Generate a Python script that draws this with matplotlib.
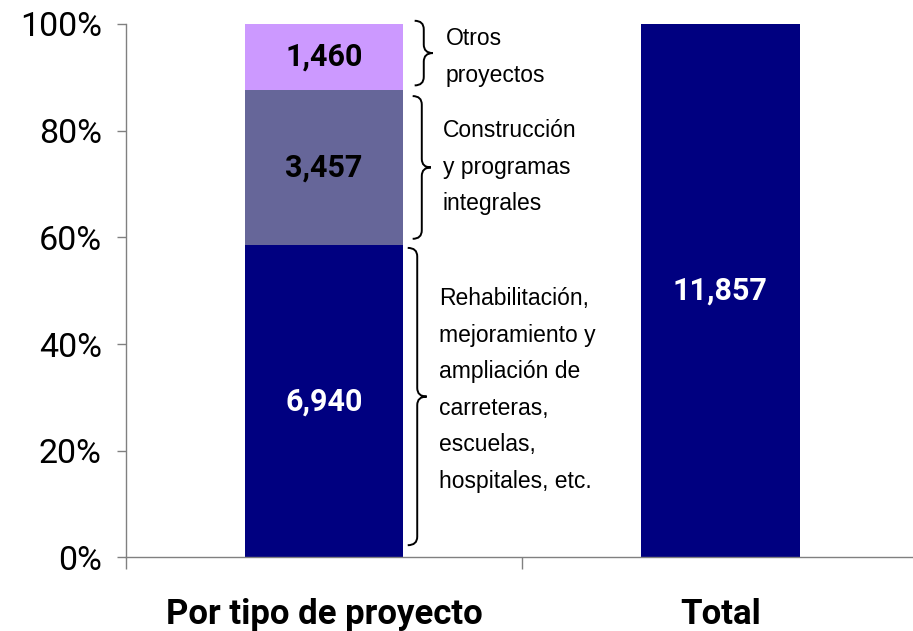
import matplotlib
matplotlib.use('Agg')
import matplotlib.pyplot as plt
from matplotlib.path import Path
from matplotlib.patches import PathPatch
import numpy as np

# datos (millones)
categorias = ['Por tipo de proyecto', 'Total']
segmentos = ['Rehabilitación,\nmejoramiento y\nampliación de\ncarreteras,\nescuelas,\nhospitales, etc.',
             'Construcción\ny programas\nintegrales',
             'Otros\nproyectos']
valores = [6940, 3457, 1460]
total = [11857]

colores = ['#000080', '#666699', '#CC99FF']
color_txt = ['white', 'black', 'black']

plt.rcParams['font.family'] = ['Roboto', 'DejaVu Sans']

fig = plt.figure(figsize=(9.13, 6.31), dpi=100)
ax = fig.add_axes([0.138, 0.1165, 0.868, 0.8455])

# porcentajes
pct = np.array(valores) / sum(valores) * 100
base = np.concatenate([[0], np.cumsum(pct)[:-1]])

for i in range(len(valores)):
    ax.bar(0, pct[i], 0.4, bottom=base[i], color=colores[i])
    ax.text(0, base[i] + pct[i] / 2, f'{valores[i]:,}', ha='center', va='center',
            fontsize=22, fontweight='bold', color=color_txt[i])

ax.bar(1, total[0] / total[0] * 100, 0.4, color=colores[0])
ax.text(1, 50, f'{total[0]:,}', ha='center', va='center',
        fontsize=22, fontweight='bold', color='white')


# llaves
def llave(x0, w, y0, y1):
    ym = (y0 + y1) / 2
    r = 1.6
    xm = x0 + w / 2
    verts = [(x0, y1), (xm, y1), (xm, y1 - r),
             (xm, ym + r), (xm, ym), (x0 + w, ym),
             (xm, ym), (xm, ym - r),
             (xm, y0 + r), (xm, y0), (x0, y0)]
    codes = [Path.MOVETO, Path.CURVE3, Path.CURVE3,
             Path.LINETO, Path.CURVE3, Path.CURVE3,
             Path.CURVE3, Path.CURVE3,
             Path.LINETO, Path.CURVE3, Path.CURVE3]
    ax.add_patch(PathPatch(Path(verts, codes), fc='none', ec='black', lw=1.4, clip_on=False))


llave_x = [0.211, 0.2235, 0.2285]
llave_w = [0.048, 0.046, 0.046]
gap_abajo = [2.3, 1.2, 0.8]
gap_arriba = [0.5, 1.2, -0.6]
txt_x = [0.289, 0.299, 0.307]
txt_dy = [2.1, 0.0, 0.0]
for i in range(len(valores)):
    llave(llave_x[i], llave_w[i], base[i] + gap_abajo[i], base[i] + pct[i] - gap_arriba[i])
    ax.text(txt_x[i], base[i] + pct[i] / 2 + txt_dy[i], segmentos[i], ha='left', va='center',
            fontsize=16.5, linespacing=1.75, family=['Liberation Sans', 'DejaVu Sans'])

ax.set_xlim(-0.5, 1.5)
ax.set_ylim(0, 100)
ax.set_yticks([0, 20, 40, 60, 80, 100])
ax.set_yticklabels(['0%', '20%', '40%', '60%', '80%', '100%'])
ax.tick_params(axis='y', labelsize=24.5, length=6.5, width=1, color='#808080', pad=11)

ax.set_xticks([0, 1])
ax.set_xticklabels(categorias, fontsize=25, fontweight='bold')
ax.set_xticks([-0.5, 0.5, 1.5], minor=True)
ax.tick_params(axis='x', which='major', length=0, pad=29)
ax.tick_params(axis='x', which='minor', length=8.6, width=1, color='#808080')

for s in ['top', 'right']:
    ax.spines[s].set_visible(False)
for s in ['left', 'bottom']:
    ax.spines[s].set_color('#808080')
    ax.spines[s].set_linewidth(1)

plt.savefig('out.png', dpi=100)
